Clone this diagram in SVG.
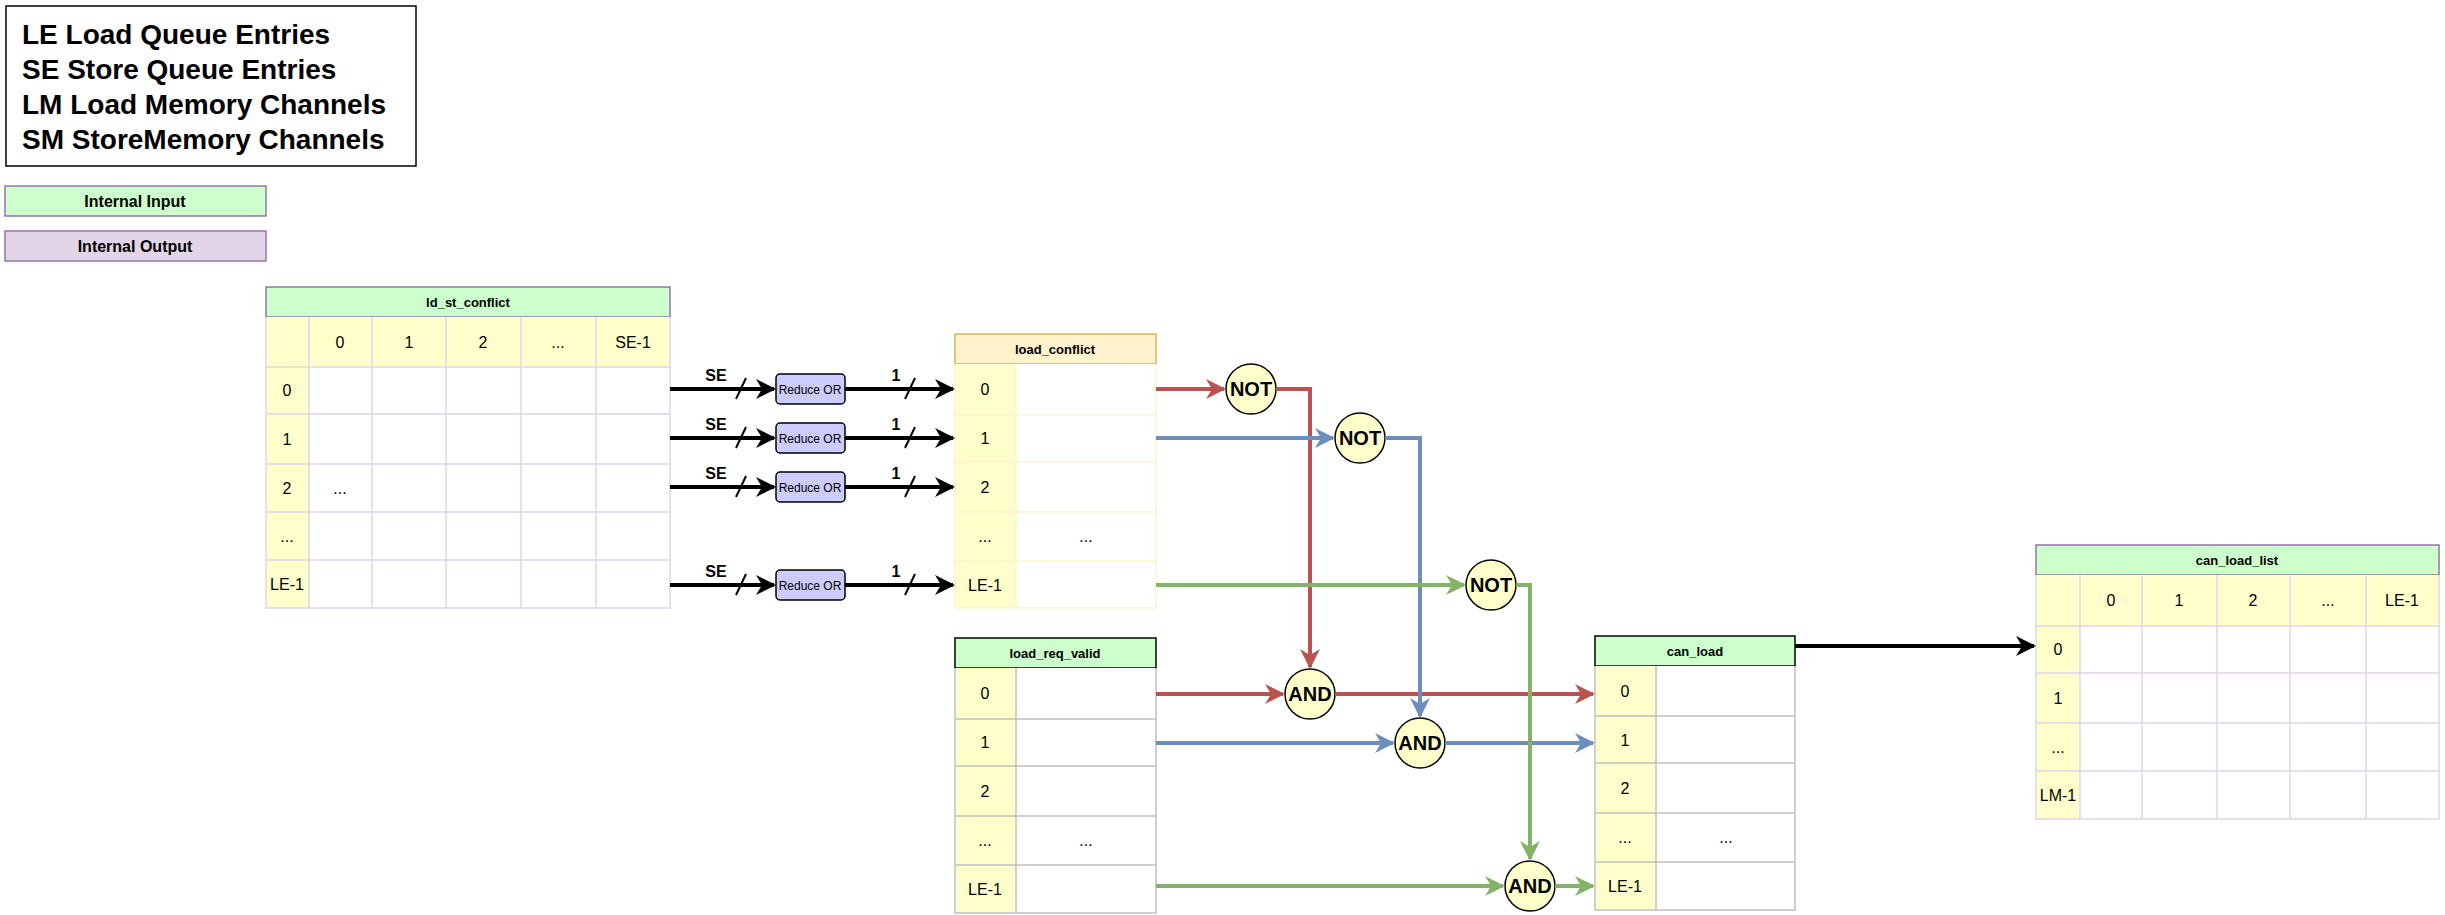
<svg xmlns="http://www.w3.org/2000/svg" width="2445" height="915" viewBox="0 0 2445 915">
<style>
text{font-family:"Liberation Sans",Arial,sans-serif;fill:#000}
.leg{font-size:28px;font-weight:bold}
.lb{font-size:16px;font-weight:bold;text-anchor:middle}
.ttl{font-size:13px;font-weight:bold;text-anchor:middle}
.c{font-size:16px;text-anchor:middle}
.g{font-size:20px;font-weight:bold;text-anchor:middle}
.hdr{fill:#CCFFCC;stroke:#9673A6;stroke-width:1.5}
.y{fill:#FFFFCC}
.w{fill:#fff}
.gl{stroke:#E1D5E7;stroke-width:1.5;fill:none}
.gg{stroke:#C0C0C0;stroke-width:1.5;fill:none}
.gate{fill:#FFFFCC;stroke:#000;stroke-width:1.5}
.ro{fill:#CCCCFF;stroke:#000;stroke-width:1.5}
.k{stroke:#000;stroke-width:4;fill:none}
.r{stroke:#B85450;stroke-width:4;fill:none}
.b{stroke:#6C8EBF;stroke-width:4;fill:none}
.gr{stroke:#82B366;stroke-width:4;fill:none}
</style>
<defs>
<marker id="ak" viewBox="0 0 10 10" refX="9" refY="5" markerWidth="5" markerHeight="5" markerUnits="strokeWidth" orient="auto"><path d="M0,0 L10,5 L0,10 L3,5 Z" fill="#000"/></marker>
<marker id="ar" viewBox="0 0 10 10" refX="9" refY="5" markerWidth="5" markerHeight="5" markerUnits="strokeWidth" orient="auto"><path d="M0,0 L10,5 L0,10 L3,5 Z" fill="#B85450"/></marker>
<marker id="ab" viewBox="0 0 10 10" refX="9" refY="5" markerWidth="5" markerHeight="5" markerUnits="strokeWidth" orient="auto"><path d="M0,0 L10,5 L0,10 L3,5 Z" fill="#6C8EBF"/></marker>
<marker id="ag" viewBox="0 0 10 10" refX="9" refY="5" markerWidth="5" markerHeight="5" markerUnits="strokeWidth" orient="auto"><path d="M0,0 L10,5 L0,10 L3,5 Z" fill="#82B366"/></marker>
</defs>
<rect width="2445" height="915" fill="#fff"/>

<g id="legend">
<rect x="6" y="6" width="410" height="160" fill="#fff" stroke="#000" stroke-width="1.5"/>
<text class="leg" x="22" y="44">LE Load Queue Entries</text>
<text class="leg" x="22" y="79">SE Store Queue Entries</text>
<text class="leg" x="22" y="114">LM Load Memory Channels</text>
<text class="leg" x="22" y="149">SM StoreMemory Channels</text>
</g>
<g id="internal-input"><rect x="5" y="186" width="261" height="30" fill="#CCFFCC" stroke="#9673A6" stroke-width="1.5"/><text class="lb" x="135" y="207">Internal Input</text></g>
<g id="internal-output"><rect x="5" y="231" width="261" height="30" fill="#E1D5E7" stroke="#9673A6" stroke-width="1.5"/><text class="lb" x="135" y="252">Internal Output</text></g>

<g id="ld_st_conflict">
<rect class="hdr" x="266" y="287" width="404" height="30"/>
<text class="ttl" x="468" y="307">ld_st_conflict</text>
<rect class="y" x="266" y="317" width="404" height="50"/>
<rect class="y" x="266" y="367" width="43" height="241"/>
<rect class="w" x="309" y="367" width="361" height="241"/>
<path class="gl" d="M266,317V608H670V317M309,317V608M372,317V608M446,317V608M521,317V608M596,317V608M266,367H670M266,414H670M266,464H670M266,512H670M266,560H670"/>
<text class="c" x="340" y="348">0</text><text class="c" x="409" y="348">1</text><text class="c" x="483" y="348">2</text><text class="c" x="558" y="348">...</text><text class="c" x="633" y="348">SE-1</text>
<text class="c" x="287" y="396">0</text><text class="c" x="287" y="445">1</text><text class="c" x="287" y="494">2</text><text class="c" x="340" y="494">...</text><text class="c" x="287" y="542">...</text><text class="c" x="287" y="590">LE-1</text>
</g>

<g id="reduce-or">
<rect class="ro" x="776" y="374" width="69" height="30" rx="4"/><text x="810" y="394" font-size="12" text-anchor="middle">Reduce OR</text>
<rect class="ro" x="776" y="423" width="69" height="30" rx="4"/><text x="810" y="443" font-size="12" text-anchor="middle">Reduce OR</text>
<rect class="ro" x="776" y="472" width="69" height="30" rx="4"/><text x="810" y="492" font-size="12" text-anchor="middle">Reduce OR</text>
<rect class="ro" x="776" y="570" width="69" height="30" rx="4"/><text x="810" y="590" font-size="12" text-anchor="middle">Reduce OR</text>
</g>

<g id="load_conflict">
<rect x="955" y="334" width="201" height="30" fill="#FFF2CC" stroke="#D6B656" stroke-width="1.5"/>
<text class="ttl" x="1055" y="354">load_conflict</text>
<rect class="y" x="955" y="364" width="61" height="244"/>
<rect class="w" x="1016" y="364" width="140" height="244"/>
<path d="M955,364V608H1156V364M1016,364V608M955,415H1156M955,462H1156M955,512H1156M955,561H1156" stroke="#FFF2CC" stroke-width="1.5" fill="none"/>
<text class="c" x="985" y="395">0</text><text class="c" x="985" y="444">1</text><text class="c" x="985" y="493">2</text><text class="c" x="985" y="542">...</text><text class="c" x="1086" y="542">...</text><text class="c" x="985" y="591">LE-1</text>
</g>

<g id="load_req_valid">
<rect x="955" y="638" width="201" height="30" fill="#CCFFCC" stroke="#000" stroke-width="1.5"/>
<text class="ttl" x="1055" y="658">load_req_valid</text>
<rect class="y" x="955" y="668" width="61" height="245"/>
<rect class="w" x="1016" y="668" width="140" height="245"/>
<path class="gg" d="M955,668V913H1156V668M1016,668V913M955,719H1156M955,766H1156M955,816H1156M955,865H1156"/>
<text class="c" x="985" y="699">0</text><text class="c" x="985" y="748">1</text><text class="c" x="985" y="797">2</text><text class="c" x="985" y="846">...</text><text class="c" x="1086" y="846">...</text><text class="c" x="985" y="895">LE-1</text>
</g>

<g id="can_load">
<rect x="1595" y="636" width="200" height="30" fill="#CCFFCC" stroke="#000" stroke-width="1.5"/>
<text class="ttl" x="1695" y="656">can_load</text>
<rect class="y" x="1595" y="666" width="61" height="244"/>
<rect class="w" x="1656" y="666" width="139" height="244"/>
<path class="gg" d="M1595,666V910H1795V666M1656,666V910M1595,716H1795M1595,763H1795M1595,813H1795M1595,862H1795"/>
<text class="c" x="1625" y="697">0</text><text class="c" x="1625" y="746">1</text><text class="c" x="1625" y="794">2</text><text class="c" x="1625" y="843">...</text><text class="c" x="1726" y="843">...</text><text class="c" x="1625" y="892">LE-1</text>
</g>

<g id="can_load_list">
<rect class="hdr" x="2036" y="545" width="403" height="30"/>
<text class="ttl" x="2237" y="565">can_load_list</text>
<rect class="y" x="2036" y="575" width="403" height="51"/>
<rect class="y" x="2036" y="626" width="44" height="193"/>
<rect class="w" x="2080" y="626" width="359" height="193"/>
<path class="gl" d="M2036,575V819H2439V575M2080,575V819M2142,575V819M2217,575V819M2290,575V819M2366,575V819M2036,626H2439M2036,673H2439M2036,723H2439M2036,771H2439"/>
<text class="c" x="2111" y="606">0</text><text class="c" x="2179" y="606">1</text><text class="c" x="2253" y="606">2</text><text class="c" x="2328" y="606">...</text><text class="c" x="2402" y="606">LE-1</text>
<text class="c" x="2058" y="655">0</text><text class="c" x="2058" y="704">1</text><text class="c" x="2058" y="753">...</text><text class="c" x="2058" y="801">LM-1</text>
</g>

<g id="gates">
<circle class="gate" cx="1251" cy="389" r="25"/><text class="g" x="1251" y="396">NOT</text>
<circle class="gate" cx="1360" cy="438" r="25"/><text class="g" x="1360" y="445">NOT</text>
<circle class="gate" cx="1491" cy="585" r="25"/><text class="g" x="1491" y="592">NOT</text>
<circle class="gate" cx="1310" cy="694" r="25"/><text class="g" x="1310" y="701">AND</text>
<circle class="gate" cx="1420" cy="743" r="25"/><text class="g" x="1420" y="750">AND</text>
<circle class="gate" cx="1530" cy="886" r="25"/><text class="g" x="1530" y="893">AND</text>
</g>

<g id="connectors">
<path class="k" d="M670,389H774" marker-end="url(#ak)"/><path class="k" d="M845,389H953" marker-end="url(#ak)"/>
<path class="k" d="M670,438H774" marker-end="url(#ak)"/><path class="k" d="M845,438H953" marker-end="url(#ak)"/>
<path class="k" d="M670,487H774" marker-end="url(#ak)"/><path class="k" d="M845,487H953" marker-end="url(#ak)"/>
<path class="k" d="M670,585H774" marker-end="url(#ak)"/><path class="k" d="M845,585H953" marker-end="url(#ak)"/>
<path stroke="#000" stroke-width="2" fill="none" d="M736,399L746,378M736,448L746,427M736,497L746,476M736,595L746,574M905,399L915,378M905,448L915,427M905,497L915,476M905,595L915,574"/>
<g font-size="16" font-weight="bold" text-anchor="middle"><text x="716" y="381">SE</text><text x="716" y="430">SE</text><text x="716" y="479">SE</text><text x="716" y="577">SE</text><text x="896" y="381">1</text><text x="896" y="430">1</text><text x="896" y="479">1</text><text x="896" y="577">1</text></g>
<path class="r" d="M1156,389H1224" marker-end="url(#ar)"/>
<path class="r" d="M1276,389H1310V667" marker-end="url(#ar)"/>
<path class="r" d="M1156,694H1283" marker-end="url(#ar)"/>
<path class="r" d="M1335,694H1593" marker-end="url(#ar)"/>
<path class="b" d="M1156,438H1333" marker-end="url(#ab)"/>
<path class="b" d="M1385,438H1420V716" marker-end="url(#ab)"/>
<path class="b" d="M1156,743H1393" marker-end="url(#ab)"/>
<path class="b" d="M1445,743H1593" marker-end="url(#ab)"/>
<path class="gr" d="M1156,585H1464" marker-end="url(#ag)"/>
<path class="gr" d="M1516,585H1530V859" marker-end="url(#ag)"/>
<path class="gr" d="M1156,886H1503" marker-end="url(#ag)"/>
<path class="gr" d="M1555,886H1593" marker-end="url(#ag)"/>
<path class="k" d="M1795,646H2034" marker-end="url(#ak)"/>
</g>
</svg>
